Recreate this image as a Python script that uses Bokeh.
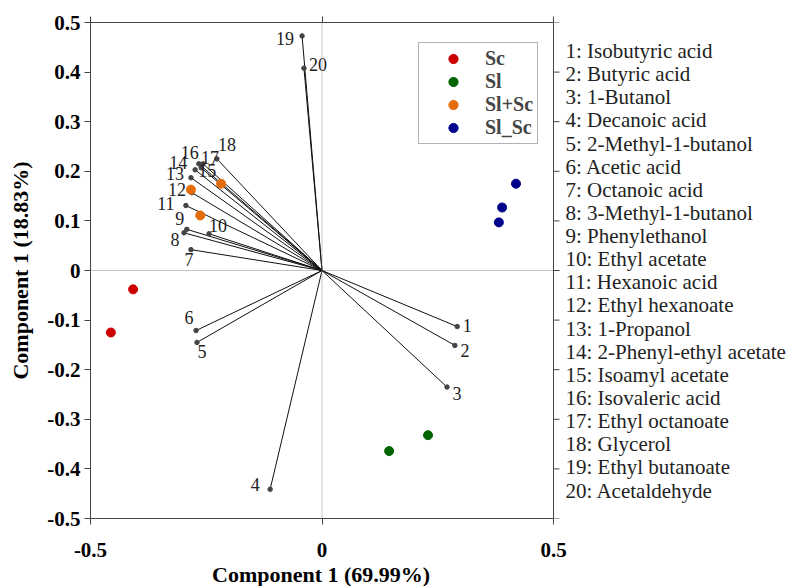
from bokeh.plotting import figure
from bokeh.models import (Range1d, FixedTicker, Span, Legend, LegendItem, LinearAxis, Title,
                          ColumnDataSource, PrintfTickFormatter, CustomJSTickFormatter)
from bokeh.embed import file_html
from bokeh.resources import INLINE
from bokeh.core.properties import value

# ---------------- data ----------------
groups = ["Sc", "Sl", "Sl+Sc", "Sl_Sc"]
group_colors = ["#cc0000", "#006400", "#e46c0a", "#00008b"]
sc_x = [-0.408, -0.456]
sc_y = [-0.038, -0.125]
sl_x = [0.145, 0.229]
sl_y = [-0.364, -0.332]
slsc_x = [-0.283, -0.263, -0.218]
slsc_y = [0.163, 0.111, 0.175]
sl_sc_x = [0.419, 0.389, 0.382]
sl_sc_y = [0.175, 0.127, 0.097]

var_ids = [str(i) for i in range(1, 21)]
load_x = [0.292, 0.287, 0.270, -0.112, -0.270, -0.272, -0.283, -0.298, -0.292, -0.244,
          -0.294, -0.281, -0.283, -0.274, -0.261, -0.266, -0.257, -0.227, -0.043, -0.039]
load_y = [-0.113, -0.151, -0.235, -0.441, -0.145, -0.121, 0.042, 0.076, 0.083, 0.074,
          0.131, 0.157, 0.187, 0.203, 0.207, 0.215, 0.215, 0.225, 0.473, 0.408]
var_names = ["Isobutyric acid", "Butyric acid", "1-Butanol", "Decanoic acid",
             "2-Methyl-1-butanol", "Acetic acid", "Octanoic acid", "3-Methyl-1-butanol",
             "Phenylethanol", "Ethyl acetate", "Hexanoic acid", "Ethyl hexanoate",
             "1-Propanol", "2-Phenyl-ethyl acetate", "Isoamyl acetate", "Isovaleric acid",
             "Ethyl octanoate", "Glycerol", "Ethyl butanoate", "Acetaldehyde"]

x_ticks = [-0.5, 0, 0.5]
y_ticks = [-0.5, -0.4, -0.3, -0.2, -0.1, 0, 0.1, 0.2, 0.3, 0.4, 0.5]
x_title = "Component 1 (69.99%)"
y_title = "Component 1 (18.83%)"

# label offsets (screen px) for the loading numbers
lab_dx = [10, 10, 10, -15, 5, -7, -2, -9, -7, 9, -20, -15, -16, -17, 6, -9, 7, 10, -17, 14]
lab_dy = [-1, 5, 6, -5, 9, -13, 10, 7, -11, -8, -2, -3, -4, -7, 3, -11, -6, -14, 3, -4]

SERIF = "Liberation Serif"
AX = "#444444"

W, H = 788, 586
LEFT, TOP, BOTTOM = 90, 22, 68
PLOT_W = 463                      # pixels used by the [-0.5, 0.5] data window
xmin, xmax = x_ticks[0], x_ticks[-1]
x_end = xmax + (W - LEFT - PLOT_W) / PLOT_W * (xmax - xmin)   # room for the name list

p = figure(width=W, height=H, output_backend="svg", toolbar_location=None,
           x_range=Range1d(xmin, x_end), y_range=Range1d(y_ticks[0], y_ticks[-1]),
           min_border_left=LEFT, min_border_top=TOP, min_border_bottom=BOTTOM, min_border_right=0,
           y_axis_label=y_title)
p.grid.visible = False
p.outline_line_color = None
p.background_fill_color = "white"

for ax in (p.xaxis[0], p.yaxis[0]):
    ax.major_label_text_font = SERIF
    ax.major_label_text_font_style = "bold"
    ax.major_label_text_font_size = "21px"
    ax.major_label_text_color = "black"
    ax.axis_label_text_font = SERIF
    ax.axis_label_text_font_style = "bold"
    ax.axis_label_text_font_size = "22px"
    ax.axis_label_text_color = "black"
    ax.axis_line_color = AX
    ax.major_tick_line_color = AX
    ax.minor_tick_line_color = None
    ax.major_tick_out = 6
    ax.major_tick_in = 0
    ax.formatter = PrintfTickFormatter(format="%g")
p.xaxis[0].ticker = FixedTicker(ticks=x_ticks)
p.xaxis[0].bounds = (xmin, xmax)
p.yaxis[0].ticker = FixedTicker(ticks=y_ticks)
p.xaxis[0].major_label_standoff = 18
p.yaxis[0].major_label_standoff = 4
p.yaxis[0].axis_label_standoff = 11

# x axis title centred under the data window
xt = Title(text=x_title, align="left", offset=PLOT_W / 2 - 110, standoff=0,
           text_font=SERIF, text_font_style="bold", text_font_size="22px", text_color="black")
p.add_layout(xt, "below")

blank = CustomJSTickFormatter(code="return ''")
top_ax = LinearAxis(ticker=FixedTicker(ticks=x_ticks), formatter=blank, bounds=(xmin, xmax))
top_ax.major_label_standoff = 0
top_ax.axis_line_color = AX
top_ax.major_tick_line_color = AX
top_ax.minor_tick_line_color = None
top_ax.major_tick_out = 6
top_ax.major_tick_in = 0
p.add_layout(top_ax, "above")

# right frame edge with outward ticks
p.add_layout(Span(location=xmax, dimension="height", line_color=AX, line_width=1))
tick_len = 6 / PLOT_W * (xmax - xmin)
p.segment(x0=[xmax] * len(y_ticks), y0=y_ticks, x1=[xmax + tick_len] * len(y_ticks), y1=y_ticks,
          line_color=AX, line_width=1)

# dotted zero lines
p.segment(x0=[xmin], y0=[0], x1=[xmax], y1=[0], line_color="#888888", line_dash="1 1", line_width=1)
p.add_layout(Span(location=0, dimension="height", line_color="#888888", line_dash="1 1", line_width=1))

# loadings
ls = ColumnDataSource(dict(x=load_x, y=load_y, t=var_ids, dx=lab_dx, dy=lab_dy,
                           x0=[0] * len(load_x), y0=[0] * len(load_y)))
p.segment(x0="x0", y0="y0", x1="x", y1="y", source=ls, line_color="#111111", line_width=1)
p.scatter(x="x", y="y", source=ls, size=4.5, fill_color="#444444", line_color="#444444")
p.text(x="x", y="y", text="t", x_offset="dx", y_offset="dy", source=ls,
       text_font=value(SERIF), text_font_size="18px", text_color="#222222",
       text_align="center", text_baseline="middle")

# scores
r_sc = p.scatter(sc_x, sc_y, size=9, fill_color=group_colors[0], line_color=group_colors[0])
r_sl = p.scatter(sl_x, sl_y, size=9, fill_color=group_colors[1], line_color=group_colors[1])
r_slsc = p.scatter(slsc_x, slsc_y, size=9, fill_color=group_colors[2], line_color=group_colors[2])
r_sl_sc = p.scatter(sl_sc_x, sl_sc_y, size=9, fill_color=group_colors[3], line_color=group_colors[3])

legend = Legend(items=[LegendItem(label=g, renderers=[r]) for g, r in
                       zip(groups, [r_sc, r_sl, r_slsc, r_sl_sc])],
                location=(328, 374), margin=0, padding=4, spacing=0,
                glyph_width=60, glyph_height=23, label_height=23, label_standoff=2,
                label_text_font=SERIF, label_text_font_style="bold", label_text_font_size="20px",
                border_line_color="#666666", border_line_width=1.5,
                background_fill_alpha=1)
p.add_layout(legend)

# right-hand list of variable names
n = len(var_names)
list_top = 0.4426
list_step = 0.04665
p.text(x=[xmax] * n, y=[list_top - i * list_step for i in range(n)],
       text=[f"{vid}: {nm}" for vid, nm in zip(var_ids, var_names)],
       x_offset=12, text_font=value(SERIF), text_font_size="21px", text_color="#222222",
       text_align="left", text_baseline="middle")

open("out.html", "w").write(file_html(p, INLINE))
